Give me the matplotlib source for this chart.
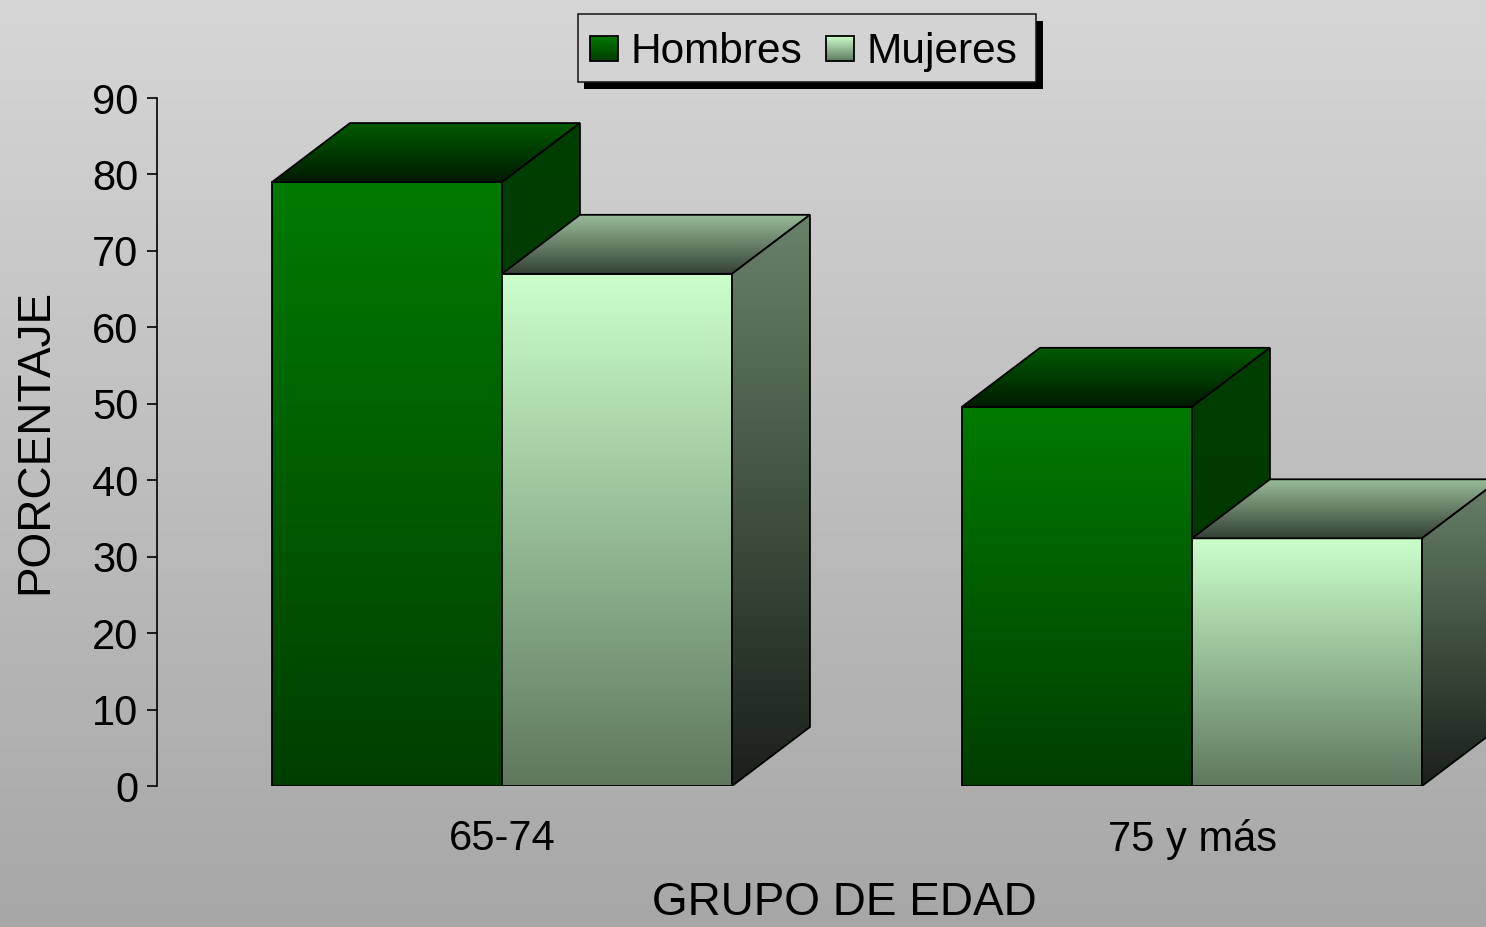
import numpy as np
import matplotlib
matplotlib.use("Agg")
import matplotlib.pyplot as plt
from matplotlib.patches import Polygon, Rectangle
from matplotlib.colors import to_rgb

# ---- data ----
categories = ['65-74', '75 y más']
series_names = ['Hombres', 'Mujeres']
hombres = [79.0, 49.6]
mujeres = [67.0, 32.4]
yticks = [0, 10, 20, 30, 40, 50, 60, 70, 80, 90]
xlabel = 'GRUPO DE EDAD'
ylabel = 'PORCENTAJE'

plt.rcParams['font.family'] = ['Liberation Sans', 'DejaVu Sans']

W, H = 1486, 927
fig = plt.figure(figsize=(W / 100, H / 100), dpi=100)


def rgb(r, g, b):
    return (r / 255, g / 255, b / 255)


def vgrad(c_top, c_bot, n=256):
    t = np.linspace(0, 1, n)[:, None, None]
    ct = np.array(to_rgb(c_top))[None, None, :]
    cb = np.array(to_rgb(c_bot))[None, None, :]
    return ct * (1 - t) + cb * t


# background gradient
bg = fig.add_axes([0, 0, 1, 1], zorder=-10)
bg.imshow(vgrad(rgb(214, 214, 214), rgb(167, 167, 167)), extent=[0, 1, 0, 1],
          aspect='auto', origin='upper', interpolation='bilinear')
bg.set_axis_off()

# main axes
ax = fig.add_axes([157 / W, 141 / H, (W - 157) / W, 688 / H], zorder=1)
ax.patch.set_visible(False)

bar_w = 1 / 3
dx = 0.113   # depth offset in category units
dy = 7.72    # depth offset in value units
lw = 1.3

styles = {
    'Hombres': dict(front=(rgb(0, 122, 0), rgb(0, 62, 0)),
                    top=(rgb(0, 92, 0), rgb(0, 26, 0)),
                    side=(rgb(0, 62, 0), rgb(0, 50, 0))),
    'Mujeres': dict(front=(rgb(204, 255, 204), rgb(95, 120, 95)),
                    top=(rgb(155, 190, 155), rgb(52, 66, 52)),
                    side=(rgb(104, 130, 104), rgb(26, 32, 26))),
}


def grad_face(verts, c_top, c_bot, z):
    verts = np.asarray(verts, dtype=float)
    poly = Polygon(verts, closed=True, facecolor='none', edgecolor='black',
                   lw=lw, zorder=z + 0.5, joinstyle='miter')
    ax.add_patch(poly)
    x0, x1 = verts[:, 0].min(), verts[:, 0].max()
    y0, y1 = verts[:, 1].min(), verts[:, 1].max()
    im = ax.imshow(vgrad(c_top, c_bot), extent=[x0, x1, y0, y1], origin='upper',
                   aspect='auto', interpolation='bilinear', zorder=z)
    im.set_clip_path(poly)


def bar3d(xl, h, st, z):
    xr = xl + bar_w
    # front
    grad_face([(xl, 0), (xr, 0), (xr, h), (xl, h)], *st['front'], z)
    # top
    grad_face([(xl, h), (xr, h), (xr + dx, h + dy), (xl + dx, h + dy)], *st['top'], z + 1)
    # side
    grad_face([(xr, 0), (xr + dx, dy), (xr + dx, h + dy), (xr, h)], *st['side'], z + 2)


z = 2
for i, cat in enumerate(categories):
    bar3d(i - bar_w, hombres[i], styles['Hombres'], z)
    z += 3
    bar3d(i, mujeres[i], styles['Mujeres'], z)
    z += 3

ax.set_autoscale_on(False)
ax.set_xlim(-0.5, -0.5 + (W - 157) / 690)
ax.set_ylim(0, 90)

for s in ['top', 'right', 'bottom']:
    ax.spines[s].set_visible(False)
ax.spines['left'].set_linewidth(1.2)
ax.spines['left'].set_bounds(0, 90)
ax.set_yticks(yticks)
ax.set_yticklabels([str(v) for v in yticks], fontsize=30)
ax.tick_params(axis='y', direction='out', length=7.5, width=1.2, pad=6)
ax.set_xticks(range(len(categories)))
ax.set_xticklabels(categories, fontsize=30)
ax.tick_params(axis='x', length=0, pad=24)

fig.text(35 / W, (H - 441) / H, ylabel, rotation=90, ha='center', va='center', fontsize=33)
fig.text(844 / W, 2 / H, xlabel, ha='center', va='bottom', fontsize=33)

# legend (overlay in pixel coordinates)
lax = fig.add_axes([0, 0, 1, 1], zorder=50)
lax.set_xlim(0, W)
lax.set_ylim(H, 0)
lax.set_axis_off()
lax.patch.set_visible(False)
lax.add_patch(Rectangle((584, 21), 459, 68, facecolor='black', edgecolor='none'))
lax.add_patch(Rectangle((578, 14), 458, 68, facecolor=rgb(211, 211, 211),
                        edgecolor=rgb(20, 20, 20), lw=1.1))
leg_pos = [(590, 631), (826, 867)]
for name, (px, tx) in zip(series_names, leg_pos):
    c_top, c_bot = styles[name]['front']
    sq = Rectangle((px, 36), 28, 25, facecolor='none', edgecolor='black', lw=1.3, zorder=3)
    lax.add_patch(sq)
    lax.imshow(vgrad(c_top, c_bot), extent=[px, px + 28, 61, 36], origin='upper',
               aspect='auto', interpolation='bilinear', zorder=2)
    lax.text(tx, 63, name, fontsize=30.5, ha='left', va='baseline')
lax.set_xlim(0, W)
lax.set_ylim(H, 0)

fig.savefig('out.png', dpi=100)
